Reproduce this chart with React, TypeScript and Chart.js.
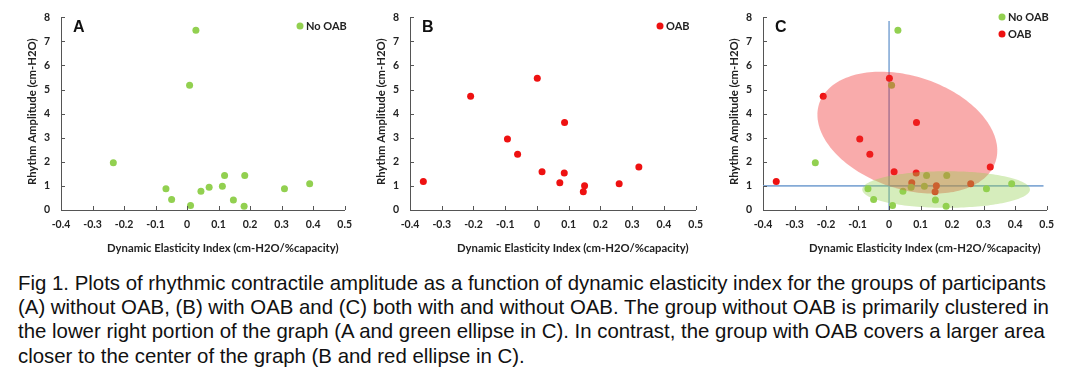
import React, { useEffect, useRef } from "react";
import { Chart, registerables } from "chart.js";

Chart.register(...registerables);

// ---- data ----
const noOabX = [0.028, 0.008, -0.234, -0.067, -0.049, 0.011, 0.044, 0.07, 0.112, 0.119, 0.183, 0.147, 0.181, 0.309, 0.389];
const noOabY = [7.46, 5.18, 1.96, 0.88, 0.44, 0.19, 0.78, 0.94, 0.99, 1.43, 1.43, 0.42, 0.16, 0.88, 1.09];
const oabX = [-0.358, -0.209, 0.001, -0.093, -0.061, 0.016, 0.087, 0.086, 0.072, 0.15, 0.146, 0.259, 0.321];
const oabY = [1.18, 4.72, 5.47, 2.95, 2.31, 1.59, 3.63, 1.54, 1.13, 1.01, 0.76, 1.09, 1.78];

const xTickLabels = ["-0.4", "-0.3", "-0.2", "-0.1", "0", "0.1", "0.2", "0.3", "0.4", "0.5"];
const yTickLabels = ["0", "1", "2", "3", "4", "5", "6", "7", "8"];

const xTitle = "Dynamic Elasticity Index (cm-H2O/%capacity)";
const yTitle = "Rhythm Amplitude (cm-H2O)";
const noOabLabel = "No OAB";
const oabLabel = "OAB";

// reference lines in panel C (data units)
const refLineY = 1;
const refLineXRange = [-0.4, 0.49];
const refLineX = 0;
const refLineYRange = [0, 7.85];

// ellipses in panel C: centre + two conjugate semi-axes, in data units
const redEllipse = { cx: 0.058, cy: 3.21, ux: 0.28, uy: -1.197, vx: -0.055, vy: -2.23 };
const greenEllipse = { cx: 0.181, cy: 0.85, ux: 0.266, uy: 0, vx: 0, vy: 0.76 };

const captionLines = [
  "Fig 1. Plots of rhythmic contractile amplitude as a function of dynamic elasticity index for the groups of participants",
  "(A) without OAB, (B) with OAB and (C) both with and without OAB. The group without OAB is primarily clustered in",
  "the lower right portion of the graph (A and green ellipse in C). In contrast, the group with OAB covers a larger area",
  "closer to the center of the graph (B and red ellipse in C).",
];

// ---- styles ----
const GREEN = "#92d050";
const RED = "#ee1111";
const AXIS = "#555555";
const TEXT = "#222222";
const FONT = "Lato, 'Liberation Sans', sans-serif";

const zip = (xs: number[], ys: number[]) => xs.map((x, i) => ({ x, y: ys[i] }));

type Panel = {
  letter: string;
  left: number;
  width: number;
  series: { label: string; color: string; xs: number[]; ys: number[] }[];
  legendX: number;
  legendY: number;
  withExtras: boolean;
};

const panels: Panel[] = [
  {
    letter: "A",
    left: 0,
    width: 360,
    series: [{ label: noOabLabel, color: GREEN, xs: noOabX, ys: noOabY }],
    legendX: 300,
    legendY: 26,
    withExtras: false,
  },
  {
    letter: "B",
    left: 349,
    width: 362,
    series: [{ label: oabLabel, color: RED, xs: oabX, ys: oabY }],
    legendX: 311,
    legendY: 26,
    withExtras: false,
  },
  {
    letter: "C",
    left: 702,
    width: 360,
    series: [
      { label: noOabLabel, color: GREEN, xs: noOabX, ys: noOabY },
      { label: oabLabel, color: RED, xs: oabX, ys: oabY },
    ],
    legendX: 300,
    legendY: 17,
    withExtras: true,
  },
];

function makePlugin(p: Panel) {
  return {
    id: "panelDecor" + p.letter,
    afterDatasetsDraw(chart: any) {
      if (!p.withExtras) return;
      const { ctx } = chart;
      const xs = chart.scales.x;
      const ys = chart.scales.y;
      const drawEllipse = (e: typeof redEllipse, color: string) => {
        ctx.save();
        ctx.beginPath();
        const n = 180;
        for (let i = 0; i <= n; i++) {
          const t = (i / n) * Math.PI * 2;
          const dx = e.cx + e.ux * Math.cos(t) + e.vx * Math.sin(t);
          const dy = e.cy + e.uy * Math.cos(t) + e.vy * Math.sin(t);
          const px = xs.getPixelForValue(dx);
          const py = ys.getPixelForValue(dy);
          if (i === 0) ctx.moveTo(px, py);
          else ctx.lineTo(px, py);
        }
        ctx.closePath();
        ctx.fillStyle = color;
        ctx.fill();
        ctx.restore();
      };
      drawEllipse(redEllipse, "rgba(240,45,45,0.4)");
      drawEllipse(greenEllipse, "rgba(146,208,80,0.38)");
    },
    afterDraw(chart: any) {
      const { ctx, chartArea } = chart;
      const xs = chart.scales.x;
      const ys = chart.scales.y;
      ctx.save();
      // inward tick marks
      ctx.strokeStyle = AXIS;
      ctx.lineWidth = 1;
      ctx.beginPath();
      xs.ticks.forEach((_t: any, i: number) => {
        const px = Math.round(xs.getPixelForTick(i)) + 0.5;
        ctx.moveTo(px, chartArea.bottom);
        ctx.lineTo(px, chartArea.bottom - 4);
      });
      ys.ticks.forEach((_t: any, i: number) => {
        const py = Math.round(ys.getPixelForTick(i)) + 0.5;
        ctx.moveTo(chartArea.left, py);
        ctx.lineTo(chartArea.left + 4, py);
      });
      ctx.stroke();

      // axis titles
      ctx.fillStyle = TEXT;
      ctx.font = `bold 11.3px ${FONT}`;
      ctx.textAlign = "center";
      ctx.textBaseline = "middle";
      ctx.fillText(xTitle, (chartArea.left + chartArea.right) / 2 + 20, 248);
      ctx.save();
      ctx.translate(chartArea.left - 29, (chartArea.top + chartArea.bottom) / 2 - 2);
      ctx.rotate(-Math.PI / 2);
      ctx.fillText(yTitle, 0, 0);
      ctx.restore();

      // panel letter
      ctx.font = `bold 16px 'Liberation Sans', Arial, sans-serif`;
      ctx.textAlign = "left";
      ctx.fillStyle = "#111";
      ctx.fillText(p.letter, chartArea.left + 12, 28);

      // legend
      ctx.font = `bold 11px ${FONT}`;
      p.series.forEach((s, i) => {
        const y = p.legendY + i * 17;
        ctx.beginPath();
        ctx.fillStyle = s.color;
        ctx.arc(p.legendX, y, 3.5, 0, Math.PI * 2);
        ctx.fill();
        ctx.fillStyle = TEXT;
        ctx.fillText(s.label, p.legendX + 6, y + 0.5);
      });
      ctx.restore();
    },
  };
}

function PanelChart({ panel }: { panel: Panel }) {
  const ref = useRef<HTMLCanvasElement | null>(null);
  useEffect(() => {
    if (!ref.current) return;
    const datasets: any[] = panel.series.map((s) => ({
      type: "scatter",
      label: s.label,
      data: zip(s.xs, s.ys),
      backgroundColor: s.color,
      borderWidth: 0,
      pointRadius: 3.5,
      pointHoverRadius: 3.5,
    }));
    if (panel.withExtras) {
      datasets.push({
        type: "line",
        label: "",
        data: [
          { x: refLineXRange[0], y: refLineY },
          { x: refLineXRange[1], y: refLineY },
        ],
        borderColor: "rgba(125,165,212,0.95)",
        borderWidth: 1.6,
        pointRadius: 0,
        showLine: true,
        fill: false,
      });
      datasets.push({
        type: "line",
        label: "",
        data: [
          { x: refLineX, y: refLineYRange[0] },
          { x: refLineX, y: refLineYRange[1] },
        ],
        borderColor: "rgba(125,165,212,0.95)",
        borderWidth: 1.6,
        pointRadius: 0,
        showLine: true,
        fill: false,
      });
    }
    const chart = new Chart(ref.current, {
      type: "scatter",
      data: { datasets },
      options: {
        animation: false,
        responsive: false,
        events: [],
        layout: { padding: { top: 14, right: panel.width - 350, left: 0, bottom: 0 } },
        plugins: { legend: { display: false }, tooltip: { enabled: false } },
        scales: {
          x: {
            type: "linear",
            min: -0.4,
            max: 0.5,
            afterFit: (s: any) => {
              s.height = 50;
            },
            grid: { display: false, drawTicks: false },
            border: { display: true, color: AXIS, width: 1 },
            ticks: {
              stepSize: 0.1,
              padding: 8,
              color: TEXT,
              font: { family: FONT, size: 10.5, weight: "bold" },
              callback: (_v: any, i: number) => xTickLabels[i],
            },
          },
          y: {
            type: "linear",
            min: 0,
            max: 8,
            afterFit: (s: any) => {
              s.width = 61;
            },
            grid: { display: false, drawTicks: false },
            border: { display: true, color: AXIS, width: 1 },
            ticks: {
              stepSize: 1,
              padding: 11,
              color: TEXT,
              font: { family: FONT, size: 10.5, weight: "bold" },
              callback: (_v: any, i: number) => yTickLabels[i],
            },
          },
        },
      } as any,
      plugins: [makePlugin(panel)],
    });
    return () => chart.destroy();
  }, [panel]);
  return (
    <canvas
      ref={ref}
      width={panel.width}
      height={260}
      style={{ position: "absolute", left: panel.left, top: 0, width: panel.width, height: 260 }}
    />
  );
}

export default function App() {
  return (
    <div
      style={{
        position: "absolute",
        left: 0,
        top: 0,
        width: 1080,
        height: 384,
        background: "#fff",
        overflow: "hidden",
      }}
    >
      {panels.map((p) => (
        <PanelChart key={p.letter} panel={p} />
      ))}
      <div
        style={{
          position: "absolute",
          left: 18,
          top: 270.5,
          fontFamily: "'Liberation Sans', Arial, sans-serif",
          fontSize: 20.4,
          lineHeight: "24.4px",
          color: "#111",
        }}
      >
        {captionLines.map((l, i) => (
          <div key={i} style={{ whiteSpace: "nowrap" }}>
            {l}
          </div>
        ))}
      </div>
    </div>
  );
}
